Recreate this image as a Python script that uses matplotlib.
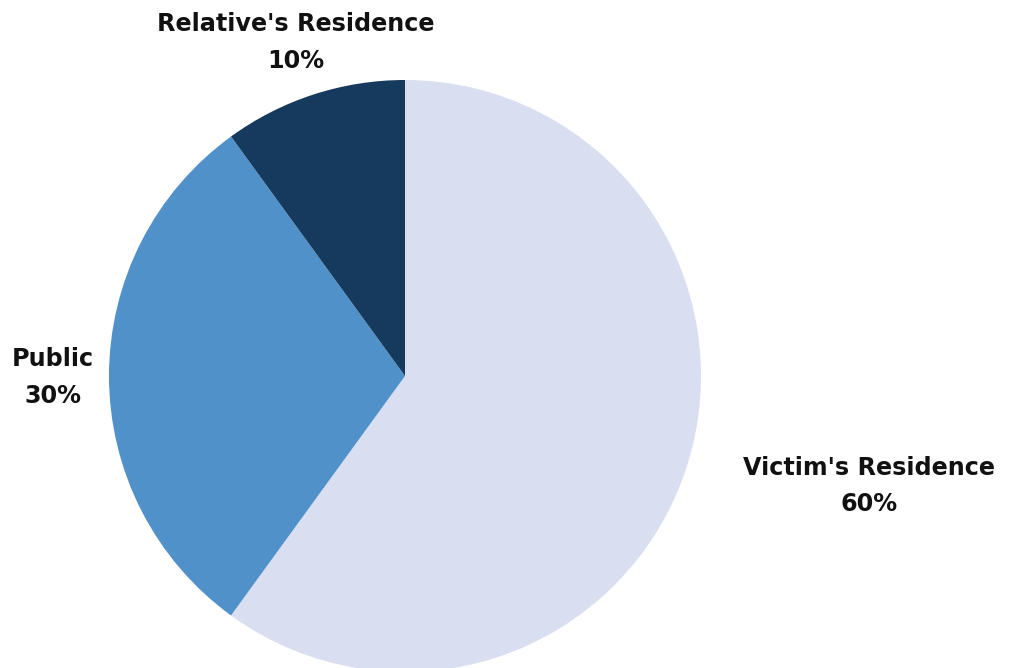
import matplotlib.pyplot as plt

# data
categories = ["Victim's Residence", "Public", "Relative's Residence"]
shares = [60, 30, 10]
colors = ["#D9DFF0", "#5191C9", "#163A5E"]

W, H = 1009, 668

fig = plt.figure(figsize=(W / 100, H / 100), dpi=100)
ax = fig.add_axes([0, 0, 1, 1])

# pie centred at pixel (405, 376), radius 296 px
ax.pie(shares, colors=colors, startangle=90, counterclock=False,
       center=(405, H - 376), radius=296,
       wedgeprops=dict(linewidth=0))
ax.set_xlim(0, W)
ax.set_ylim(0, H)
ax.set_aspect("equal")
ax.axis("off")

# label anchor points in pixel coordinates (x, y of name line, y of pct line)
label_pos = {
    "Victim's Residence": (869, 468, 504),
    "Public": (53, 359, 396),
    "Relative's Residence": (296, 24, 61),
}

font = dict(family=["DejaVu Sans"], fontsize=17.2, fontweight="bold",
            color="#111111", ha="center", va="center")
for cat, pct in zip(categories, shares):
    x, y1, y2 = label_pos[cat]
    ax.text(x, H - y1, cat, **font)
    ax.text(x, H - y2, f"{pct}%", **font)

fig.savefig("out.png", dpi=100)
